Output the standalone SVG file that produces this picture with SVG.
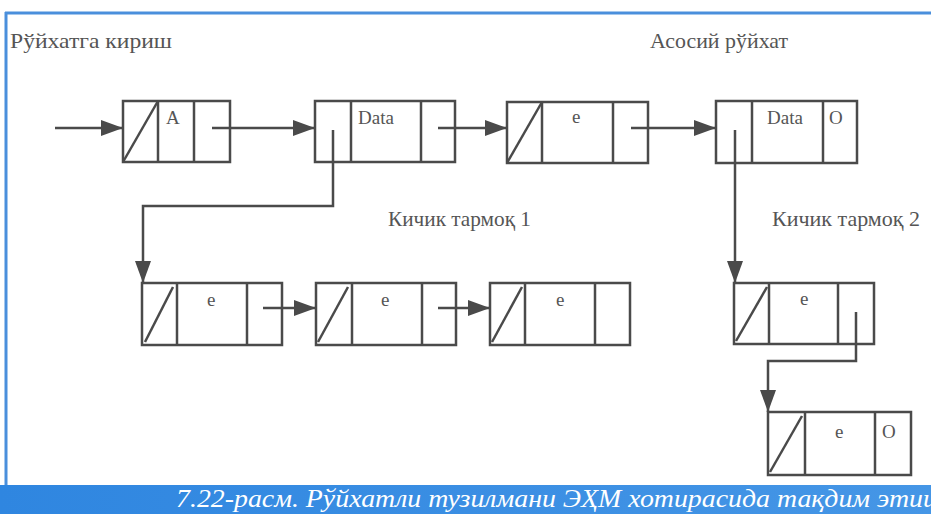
<svg xmlns="http://www.w3.org/2000/svg" width="931" height="514" viewBox="0 0 931 514">
<defs>
<style>
.box{fill:none;stroke:#4a4a4a;stroke-width:2.5}
.ln{fill:none;stroke:#4a4a4a;stroke-width:2.5}
.lbl{font-family:"Liberation Serif",serif;font-size:21px;fill:#555}
.cell{font-family:"Liberation Serif",serif;font-size:19px;fill:#555}
.cap{font-family:"Liberation Serif",serif;font-style:italic;font-size:26px;fill:#ffffff}
</style>
<marker id="ahl" viewBox="0 0 10 10" refX="10" refY="5" markerWidth="22" markerHeight="16" markerUnits="userSpaceOnUse" orient="auto" preserveAspectRatio="none">
<path d="M0,0 L10,5 L0,10 z" fill="#4a4a4a"/>
</marker>
<linearGradient id="band" x1="0" y1="0" x2="1" y2="0">
<stop offset="0" stop-color="#2f86e0"/>
<stop offset="1" stop-color="#4596e6"/>
</linearGradient>
</defs>
<rect x="0" y="0" width="931" height="514" fill="#ffffff"/>
<g id="frame">
<line x1="5" y1="13" x2="931" y2="13" stroke="#4a8fdc" stroke-width="3"/>
<line x1="6" y1="12" x2="6" y2="486" stroke="#4a8fdc" stroke-width="3"/>
<rect x="0" y="485" width="931" height="29" fill="url(#band)"/>
<text class="cap" x="176" y="507" textLength="768" lengthAdjust="spacingAndGlyphs">7.22-расм. Рўйхатли тузилмани ЭҲМ хотирасида тақдим этиш</text>
</g>
<g id="labels">
<text class="lbl" x="10" y="48" textLength="162" lengthAdjust="spacingAndGlyphs">Рўйхатга кириш</text>
<text class="lbl" x="650" y="48" textLength="138" lengthAdjust="spacingAndGlyphs">Асосий рўйхат</text>
<text class="lbl" x="388" y="226" textLength="143" lengthAdjust="spacingAndGlyphs">Кичик тармоқ 1</text>
<text class="lbl" x="772" y="226" textLength="148" lengthAdjust="spacingAndGlyphs">Кичик тармоқ 2</text>
</g>
<g id="n1">
<rect class="box" x="123" y="101" width="107" height="61"/>
<line class="ln" x1="158" y1="101" x2="158" y2="162"/>
<line class="ln" x1="194" y1="101" x2="194" y2="162"/>
<line class="ln" x1="123" y1="162" x2="158" y2="101"/>
<text class="cell" x="166" y="124">A</text>
</g>
<g id="n2">
<rect class="box" x="315" y="101" width="140" height="61"/>
<line class="ln" x1="351" y1="101" x2="351" y2="162"/>
<line class="ln" x1="421" y1="101" x2="421" y2="162"/>
<text class="cell" x="358" y="124">Data</text>
</g>
<g id="n3">
<rect class="box" x="507" y="102" width="141" height="61"/>
<line class="ln" x1="542" y1="102" x2="542" y2="163"/>
<line class="ln" x1="613" y1="102" x2="613" y2="163"/>
<line class="ln" x1="507" y1="163" x2="542" y2="102"/>
<text class="cell" x="572" y="123">e</text>
</g>
<g id="n4">
<rect class="box" x="716" y="101" width="141" height="62"/>
<line class="ln" x1="752" y1="101" x2="752" y2="163"/>
<line class="ln" x1="823" y1="101" x2="823" y2="163"/>
<text class="cell" x="767" y="124">Data</text>
<text class="cell" x="829" y="124">O</text>
</g>
<g id="n5">
<rect class="box" x="142" y="283" width="140" height="62"/>
<line class="ln" x1="177" y1="283" x2="177" y2="345"/>
<line class="ln" x1="247" y1="283" x2="247" y2="345"/>
<line class="ln" x1="145" y1="342" x2="173" y2="287"/>
<text class="cell" x="207" y="306">e</text>
</g>
<g id="n6">
<rect class="box" x="316" y="283" width="140" height="62"/>
<line class="ln" x1="352" y1="283" x2="352" y2="345"/>
<line class="ln" x1="422" y1="283" x2="422" y2="345"/>
<line class="ln" x1="318" y1="342" x2="348" y2="287"/>
<text class="cell" x="381" y="306">e</text>
</g>
<g id="n7">
<rect class="box" x="490" y="283" width="140" height="62"/>
<line class="ln" x1="525" y1="283" x2="525" y2="345"/>
<line class="ln" x1="595" y1="283" x2="595" y2="345"/>
<line class="ln" x1="492" y1="342" x2="522" y2="287"/>
<text class="cell" x="556" y="306">e</text>
</g>
<g id="n8">
<rect class="box" x="734" y="283" width="140" height="61"/>
<line class="ln" x1="769" y1="283" x2="769" y2="344"/>
<line class="ln" x1="838" y1="283" x2="838" y2="344"/>
<line class="ln" x1="736" y1="341" x2="767" y2="287"/>
<text class="cell" x="800" y="305">e</text>
</g>
<g id="n9">
<rect class="box" x="768" y="412" width="143" height="63"/>
<line class="ln" x1="805" y1="412" x2="805" y2="475"/>
<line class="ln" x1="875" y1="412" x2="875" y2="475"/>
<line class="ln" x1="770" y1="472" x2="802" y2="416"/>
<text class="cell" x="835" y="438">e</text>
<text class="cell" x="882" y="438">O</text>
</g>
<g id="connectors">
<line class="ln" x1="55" y1="128" x2="123" y2="128" marker-end="url(#ahl)"/>
<line class="ln" x1="212" y1="128" x2="315" y2="128" marker-end="url(#ahl)"/>
<line class="ln" x1="438" y1="128" x2="507" y2="128" marker-end="url(#ahl)"/>
<line class="ln" x1="631" y1="128" x2="716" y2="128" marker-end="url(#ahl)"/>
<polyline class="ln" points="333,130 333,206 143,206 143,283" marker-end="url(#ahl)"/>
<polyline class="ln" points="735,130 735,283" marker-end="url(#ahl)"/>
<line class="ln" x1="263" y1="308" x2="316" y2="308" marker-end="url(#ahl)"/>
<line class="ln" x1="438" y1="308" x2="490" y2="308" marker-end="url(#ahl)"/>
<polyline class="ln" points="856,312 856,361 768,361 768,412" marker-end="url(#ahl)"/>
</g>
</svg>
